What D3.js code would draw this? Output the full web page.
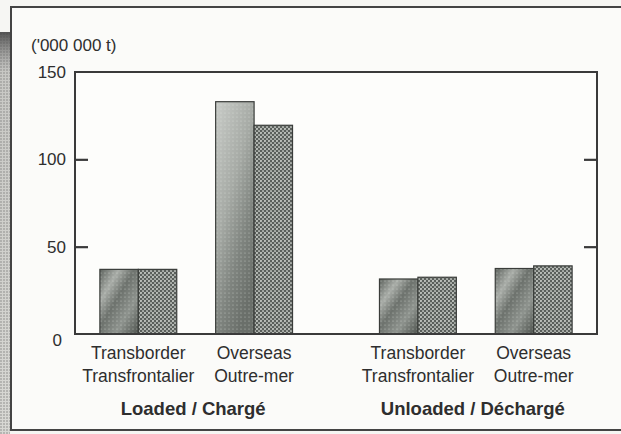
<!DOCTYPE html>
<html><head><meta charset="utf-8">
<script src="https://cdn.jsdelivr.net/npm/d3@7"></script>
<style>
html,body{margin:0;padding:0;background:#f6f6f3;}
svg{display:block;font-family:"Liberation Sans",Arial,Helvetica,sans-serif;}
</style></head>
<body>
<svg id="chart" width="621" height="434"></svg>
<script>
// ---- data ----
const groups = ["Loaded / Chargé", "Unloaded / Déchargé"];
const categoriesEn = ["Transborder", "Overseas"];
const categoriesFr = ["Transfrontalier", "Outre-mer"];
const seriesKeys = ["a", "b"];
// values in millions of tonnes, order: [Loaded-Transborder, Loaded-Overseas, Unloaded-Transborder, Unloaded-Overseas]
const seriesA = [37, 133, 31.5, 37.5];
const seriesB = [37, 119.5, 32.5, 39];
const yTicks = [0, 50, 100, 150];
const yTitle = "('000 000 t)";

// ---- build rows ----
const rows = [];
groups.forEach((g, gi) => categoriesEn.forEach((c, ci) => {
  const i = gi * categoriesEn.length + ci;
  rows.push({group: g, cat: c, catFr: categoriesFr[ci], a: seriesA[i], b: seriesB[i]});
}));

const svg = d3.select("#chart");
const pLeft = 75, pRight = 597, pTop = 72, pBottom = 334;

const defs = svg.append("defs");
const g1 = defs.append("linearGradient").attr("id", "gA")
  .attr("x1", "0").attr("y1", "0").attr("x2", "1").attr("y2", "1");
[[0, "#5f645f"], [0.25, "#a9ada8"], [0.45, "#6d726d"], [0.7, "#8e938e"], [1, "#4f544f"]]
  .forEach(([o, c]) => g1.append("stop").attr("offset", o).attr("stop-color", c));
const gTall = defs.append("linearGradient").attr("id", "gAtall")
  .attr("x1", "0").attr("y1", "0").attr("x2", "0.6").attr("y2", "1");
[[0, "#c9ccc8"], [0.45, "#a7aba6"], [0.75, "#7f847f"], [1, "#6a6f6a"]]
  .forEach(([o, c]) => gTall.append("stop").attr("offset", o).attr("stop-color", c));

const pA = defs.append("pattern").attr("id", "dotsA").attr("patternUnits", "userSpaceOnUse")
  .attr("width", 4).attr("height", 4);
pA.append("circle").attr("cx", 1).attr("cy", 1).attr("r", 0.6).attr("fill", "#e8eae6").attr("opacity", 0.6);

const pB = defs.append("pattern").attr("id", "dotsB").attr("patternUnits", "userSpaceOnUse")
  .attr("width", 4).attr("height", 4);
pB.append("rect").attr("width", 4).attr("height", 4).attr("fill", "#5a5f5b");
pB.append("circle").attr("cx", 1).attr("cy", 1).attr("r", 1.05).attr("fill", "#c3c7c2");
pB.append("circle").attr("cx", 3).attr("cy", 3).attr("r", 1.05).attr("fill", "#b0b4af");

const pStrip = defs.append("pattern").attr("id", "dotsStrip").attr("patternUnits", "userSpaceOnUse")
  .attr("width", 3).attr("height", 3);
pStrip.append("rect").attr("width", 3).attr("height", 3).attr("fill", "#d8d8d4");
pStrip.append("circle").attr("cx", 1).attr("cy", 1).attr("r", 0.7).attr("fill", "#777");
const gStrip = defs.append("linearGradient").attr("id", "gStrip").attr("x1", 0).attr("y1", 0).attr("x2", 0).attr("y2", 1);
gStrip.append("stop").attr("offset", 0).attr("stop-color", "#444").attr("stop-opacity", 0.9);
gStrip.append("stop").attr("offset", 0.1).attr("stop-color", "#888").attr("stop-opacity", 0.2);
gStrip.append("stop").attr("offset", 1).attr("stop-color", "#888").attr("stop-opacity", 0);

// background + outer frame
svg.append("rect").attr("width", 621).attr("height", 434).attr("fill", "#f6f6f3");
svg.append("rect").attr("x", 0).attr("y", 32).attr("width", 10).attr("height", 402).attr("fill", "url(#dotsStrip)");
svg.append("rect").attr("x", 0).attr("y", 32).attr("width", 10).attr("height", 402).attr("fill", "url(#gStrip)");
svg.append("rect").attr("x", 11).attr("y", 7).attr("width", 620).attr("height", 423).attr("fill", "#fbfbf9")
  .attr("stroke", "#444").attr("stroke-width", 2);

// scales
const x0 = d3.scaleBand().domain(groups).range([pLeft, pRight]).paddingInner(0.311).paddingOuter(0.089);
const x1 = d3.scaleBand().domain(categoriesEn).range([0, x0.bandwidth()]).paddingInner(0.336);
const x2 = d3.scaleBand().domain(seriesKeys).range([0, x1.bandwidth()]);
const y = d3.scaleLinear().domain([0, 150]).range([pBottom, pTop]);

// plot frame
svg.append("rect").attr("x", pLeft).attr("y", pTop).attr("width", pRight - pLeft).attr("height", pBottom - pTop)
  .attr("fill", "#fdfdfb").attr("stroke", "#3a3a3a").attr("stroke-width", 2);

// bars
const bars = svg.append("g");
rows.forEach(r => {
  const bx = x0(r.group) + x1(r.cat);
  const xa = bx + x2("a"), xb = bx + x2("b"), w = x2.bandwidth();
  const fillA = r.a > 100 ? "url(#gAtall)" : "url(#gA)";
  bars.append("rect").attr("x", xa).attr("y", y(r.a)).attr("width", w).attr("height", y(0) - y(r.a))
    .attr("fill", fillA);
  bars.append("rect").attr("x", xa).attr("y", y(r.a)).attr("width", w).attr("height", y(0) - y(r.a))
    .attr("fill", "url(#dotsA)").attr("stroke", "#3a3d3a").attr("stroke-width", 1.2);
  bars.append("rect").attr("x", xb).attr("y", y(r.b)).attr("width", w).attr("height", y(0) - y(r.b))
    .attr("fill", "url(#dotsB)").attr("stroke", "#3a3d3a").attr("stroke-width", 1.2);
});
// baseline redraw
svg.append("line").attr("x1", pLeft).attr("x2", pRight).attr("y1", pBottom).attr("y2", pBottom)
  .attr("stroke", "#3a3a3a").attr("stroke-width", 2);

// axes
const innerTicks = yTicks.filter(t => t > 0 && t < 150);
const axL = svg.append("g").attr("transform", `translate(${pLeft},0)`)
  .call(d3.axisLeft(y).tickValues(innerTicks).tickSize(-13).tickFormat(""));
const axR = svg.append("g").attr("transform", `translate(${pRight},0)`)
  .call(d3.axisRight(y).tickValues(innerTicks).tickSize(-13).tickFormat(""));
[axL, axR].forEach(a => {
  a.select(".domain").remove();
  a.selectAll("line").attr("stroke", "#3a3a3a").attr("stroke-width", 2.2);
});

// tick labels
const lab = svg.append("g").attr("fill", "#2e2e2e").attr("font-size", 17);
yTicks.forEach(t => {
  const isZero = t === 0;
  lab.append("text").attr("x", isZero ? 62 : 66).attr("y", y(t) + (isZero ? 12 : 6))
    .attr("text-anchor", "end").text(t);
});
lab.append("text").attr("x", 31).attr("y", 51).text(yTitle);

// category labels
rows.forEach(r => {
  const cx = x0(r.group) + x1(r.cat) + x1.bandwidth() / 2;
  lab.append("text").attr("x", cx).attr("y", 359).attr("text-anchor", "middle").attr("font-size", 17.5).text(r.cat);
  lab.append("text").attr("x", cx).attr("y", 382).attr("text-anchor", "middle").attr("font-size", 17.5).text(r.catFr);
});
groups.forEach(g => {
  lab.append("text").attr("x", x0(g) + x0.bandwidth() / 2 - 3).attr("y", 415)
    .attr("text-anchor", "middle").attr("font-weight", "bold").attr("font-size", 18.5).text(g);
});
</script>
</body></html>
